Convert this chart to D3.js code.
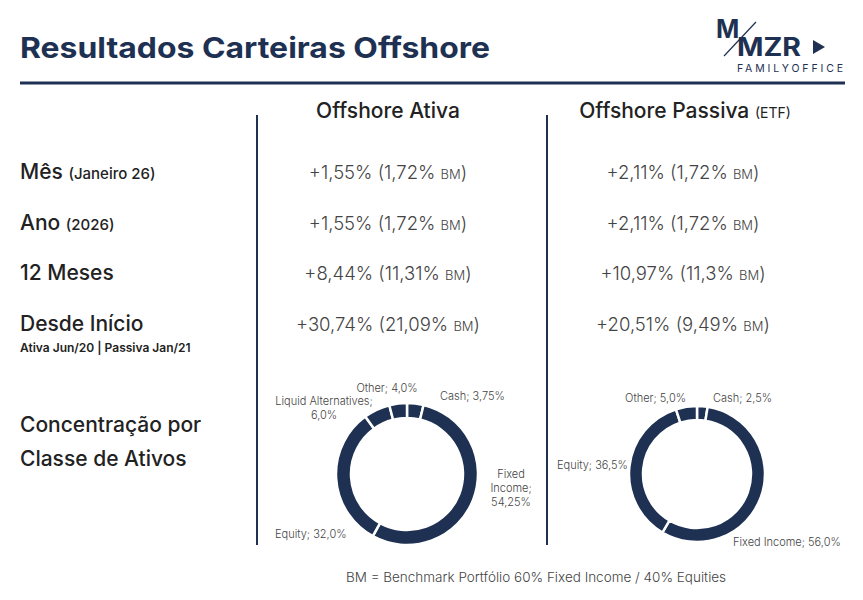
<!DOCTYPE html>
<html lang="pt">
<head>
<meta charset="UTF-8">
<script src="https://d3js.org/d3.v7.min.js"></script>
<style>
  body { margin: 0; background: #fff; }
  svg { font-family: Inter, "Noto Sans", sans-serif; }
</style>
</head>
<body>
<svg width="863" height="600"></svg>
<script>
// Table data
const rowLabels = ["Mês", "Ano", "12 Meses", "Desde Início"];
const rowSubs = ["(Janeiro 26)", "(2026)", "", ""];
const ativaRet = ["+1,55%", "+1,55%", "+8,44%", "+30,74%"];
const ativaBM = ["(1,72%", "(1,72%", "(11,31%", "(21,09%"];
const passivaRet = ["+2,11%", "+2,11%", "+10,97%", "+20,51%"];
const passivaBM = ["(1,72%", "(1,72%", "(11,3%", "(9,49%"];

// Allocation data
const ativaAlloc = [
  { name: "Cash", value: 3.75, label: ["Cash; 3,75%"] },
  { name: "Fixed Income", value: 54.25, label: ["Fixed", "Income;", "54,25%"] },
  { name: "Equity", value: 32.0, label: ["Equity; 32,0%"] },
  { name: "Liquid Alternatives", value: 6.0, label: ["Liquid Alternatives;", "6,0%"] },
  { name: "Other", value: 4.0, label: ["Other; 4,0%"] }
];
const passivaAlloc = [
  { name: "Cash", value: 2.5, label: ["Cash; 2,5%"] },
  { name: "Fixed Income", value: 56.0, label: ["Fixed Income; 56,0%"] },
  { name: "Equity", value: 36.5, label: ["Equity; 36,5%"] },
  { name: "Other", value: 5.0, label: ["Other; 5,0%"] }
];

const navy = "#1e3152", dark = "#222", grey = "#444";
const svg = d3.select("svg");

// Header
svg.append("text").attr("x", 20).attr("y", 58).attr("font-size", 29).attr("font-weight", 700)
  .attr("fill", navy).attr("textLength", 470).attr("lengthAdjust", "spacingAndGlyphs")
  .text("Resultados Carteiras Offshore");
svg.append("line").attr("x1", 20).attr("x2", 845).attr("y1", 83).attr("y2", 83)
  .attr("stroke", navy).attr("stroke-width", 3);

// Logo
const logo = svg.append("g").attr("fill", navy);
logo.append("text").attr("x", 716).attr("y", 38).attr("font-size", 25).attr("font-weight", 700).text("M");
logo.append("text").attr("x", 737).attr("y", 56).attr("font-size", 25).attr("font-weight", 700)
  .attr("textLength", 64).attr("lengthAdjust", "spacingAndGlyphs").text("MZR");
logo.append("path").attr("d", "M813,40 L825,47 L813,54 Z");
logo.append("line").attr("x1", 724).attr("y1", 56).attr("x2", 756).attr("y2", 22)
  .attr("stroke", navy).attr("stroke-width", 1.2);
logo.append("text").attr("x", 737).attr("y", 72).attr("font-size", 10.5)
  .attr("textLength", 106).attr("lengthAdjust", "spacing").text("FAMILYOFFICE");

// Column headers and dividers
svg.append("text").attr("x", 388).attr("y", 118).attr("text-anchor", "middle").attr("font-size", 21)
  .attr("font-weight", 500).attr("fill", dark).text("Offshore Ativa");
const ph = svg.append("text").attr("x", 685).attr("y", 118).attr("text-anchor", "middle")
  .attr("font-size", 21).attr("font-weight", 500).attr("fill", dark);
ph.append("tspan").text("Offshore Passiva ");
ph.append("tspan").attr("font-size", 14).attr("font-weight", 400).text("(ETF)");
[257, 547].forEach(x => svg.append("line").attr("x1", x).attr("x2", x).attr("y1", 115).attr("y2", 545)
  .attr("stroke", navy).attr("stroke-width", 2));

// Rows
const y = d3.scalePoint().domain(rowLabels).range([172, 324]);
rowLabels.forEach((r, i) => {
  const t = svg.append("text").attr("x", 20).attr("y", y(r) + 7).attr("font-size", 21)
    .attr("font-weight", 500).attr("fill", dark);
  t.append("tspan").text(r + " ");
  if (rowSubs[i]) t.append("tspan").attr("font-size", 15).text(rowSubs[i]);
  const cell = (x, ret, bm) => {
    const c = svg.append("text").attr("x", x).attr("y", y(r) + 7).attr("text-anchor", "middle")
      .attr("font-size", 18.5).attr("font-weight", 300).attr("fill", grey);
    c.append("tspan").text(ret + (ret.length <= 6 ? "  " : " ") + bm + " ");
    c.append("tspan").attr("font-size", 13).text("BM");
    c.append("tspan").text(")");
  };
  cell(388, ativaRet[i], ativaBM[i]);
  cell(683, passivaRet[i], passivaBM[i]);
});
svg.append("text").attr("x", 20).attr("y", 352).attr("font-size", 12).attr("font-weight", 600)
  .attr("fill", dark).text("Ativa  Jun/20 | Passiva Jan/21");

// Concentration label
["Concentração por", "Classe de Ativos"].forEach((s, i) =>
  svg.append("text").attr("x", 20).attr("y", 432 + i * 34).attr("font-size", 21)
    .attr("font-weight", 500).attr("fill", dark).text(s));

// Donuts
function donut(data, cx, cy, ro, ri, labelPos) {
  const g = svg.append("g").attr("transform", `translate(${cx},${cy})`);
  const arcs = d3.pie().value(d => d.value).sort(null)(data);
  g.selectAll("path").data(arcs).join("path")
    .attr("d", d3.arc().innerRadius(ri).outerRadius(ro))
    .attr("fill", navy).attr("stroke", "#fff").attr("stroke-width", 2.5);
  data.forEach((d, i) => {
    const p = labelPos[i];
    const t = g.append("text").attr("x", p[0]).attr("y", p[1]).attr("text-anchor", p[2])
      .attr("font-size", 11).attr("font-weight", 300).attr("fill", grey);
    d.label.forEach((l, j) => t.append("tspan").attr("x", p[0]).attr("dy", j ? 14 : 0).text(l));
  });
}
donut(ativaAlloc, 407, 474, 71, 56, [
  [33, -74, "start"], [104, 4, "middle"], [-132, 64, "start"],
  [-83, -69, "middle"], [-20, -82, "middle"]]);
donut(passivaAlloc, 697, 474, 68, 54, [
  [16, -72, "start"], [36, 72, "start"], [-140, -5, "start"], [-11, -72, "end"]]);

// Footnote
svg.append("text").attr("x", 536).attr("y", 582).attr("text-anchor", "middle").attr("font-size", 13.5)
  .attr("font-weight", 300).attr("fill", grey).text("BM = Benchmark Portfólio 60% Fixed Income / 40% Equities");
</script>
</body>
</html>
